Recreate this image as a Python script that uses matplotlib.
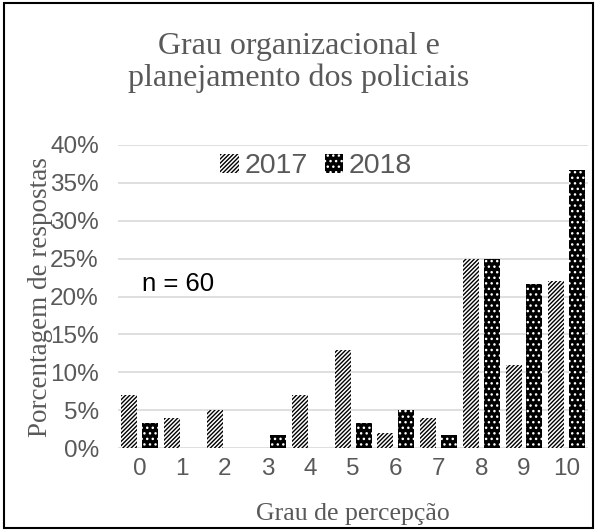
import numpy as np
import matplotlib
matplotlib.use("Agg")
from matplotlib import pyplot as plt, patches

grau = ["0", "1", "2", "3", "4", "5", "6", "7", "8", "9", "10"]
pct_2017 = [7, 4, 5, 0, 7, 13, 2, 4, 25, 11, 22]
pct_2018 = [3.3, 0, 0, 1.7, 0, 3.3, 5, 1.7, 25, 21.7, 36.7]

gray = "#595959"
serif = ["Liberation Serif", "DejaVu Serif"]
sans = ["Liberation Sans", "DejaVu Sans"]

fig = plt.figure(figsize=(5.97, 5.31), dpi=100)
ax = fig.add_axes([0.198, 0.156, 0.787, 0.571])

x = np.arange(len(grau))
w = 0.375
off = 0.245
b1 = ax.bar(x - off, pct_2017, w, facecolor="white", edgecolor="black",
            hatch="////////", linewidth=0, label="2017", zorder=3)
b2 = ax.bar(x + off, pct_2018, w, facecolor="black", edgecolor="white",
            hatch="...", linewidth=0, label="2018", zorder=3)

ax.set_xlim(-0.5, 10.5)
ax.set_ylim(0, 40)
ax.set_yticks(range(0, 41, 5))
ax.set_yticklabels([f"{v}%" for v in range(0, 41, 5)])
ax.set_xticks(x)
ax.set_xticklabels(grau)
ax.grid(True, axis="y", color="#d9d9d9", linewidth=1.2, zorder=0)
for s in ax.spines.values():
  s.set_visible(False)
ax.tick_params(axis="y", length=0, labelsize=17.5, labelcolor=gray, pad=14)
ax.tick_params(axis="x", length=0, labelsize=17.5, labelcolor=gray, pad=7)
for lab in ax.get_xticklabels() + ax.get_yticklabels():
  lab.set_family(sans)

ax.set_ylabel("Porcentagem de respostas", family=serif, fontsize=19.5, color=gray, labelpad=-2)
ax.set_xlabel("Grau de percepção", family=serif, fontsize=18.5, color=gray, labelpad=17)
fig.text(0.5, 0.883, "Grau organizacional e\nplanejamento dos policiais", ha="center", va="center",
         family=serif, fontsize=23, color=gray, linespacing=1.1)

ax.text(0.06, 21.6, "n = 60", family=sans, fontsize=18.5, color="black", va="center")

leg = ax.legend(loc="center", bbox_to_anchor=(0.421, 0.93), ncols=2, frameon=False,
                prop={"family": sans, "size": 20.5}, handlelength=0.65, handleheight=0.65,
                handletextpad=0.2, columnspacing=0.6, labelcolor=gray)

fig.patches.append(patches.Rectangle((0.006, 0.006), 0.988, 0.988, transform=fig.transFigure,
                                     fill=False, edgecolor="black", linewidth=1.5))

fig.savefig("out.png", dpi=100)
